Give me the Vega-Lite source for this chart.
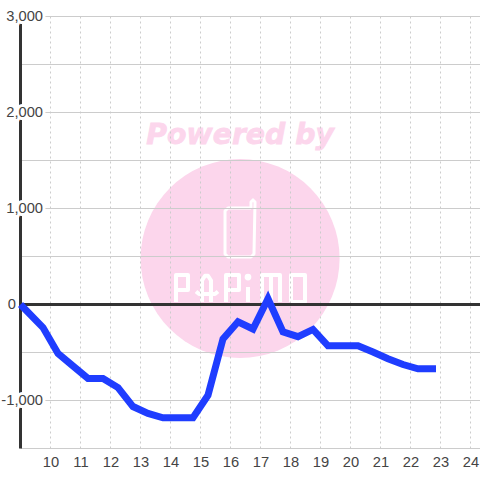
{
"$schema":"https://vega.github.io/schema/vega-lite/v6.json",
"width":459.5,"height":432,
"autosize":{"type":"none"},
"padding":{"left":20.5,"top":16.5,"right":0,"bottom":31.5},
"background":"#ffffff",
"config":{"view":{"stroke":null},"font":"Liberation Sans"},
"datasets":{
"series":[{"h":9,"v":0},{"h":9.75,"v":-240},{"h":10.25,"v":-510},{"h":10.75,"v":-640},{"h":11.25,"v":-770},{"h":11.75,"v":-770},{"h":12.25,"v":-865},{"h":12.75,"v":-1063},{"h":13.25,"v":-1135},{"h":13.75,"v":-1180},{"h":14.25,"v":-1180},{"h":14.75,"v":-1180},{"h":15.25,"v":-945},{"h":15.75,"v":-358},{"h":16.25,"v":-180},{"h":16.75,"v":-255},{"h":17.25,"v":60},{"h":17.75,"v":-285},{"h":18.25,"v":-335},{"h":18.75,"v":-260},{"h":19.25,"v":-430},{"h":19.75,"v":-430},{"h":20.25,"v":-430},{"h":20.75,"v":-495},{"h":21.25,"v":-565},{"h":21.75,"v":-625},{"h":22.25,"v":-670},{"h":22.85,"v":-670}],
"hgrid":[{"v":-1500},{"v":-1000},{"v":-500},{"v":0},{"v":500},{"v":1000},{"v":1500},{"v":2000},{"v":2500},{"v":3000}],
"vgrid":[{"h":10},{"h":11},{"h":12},{"h":13},{"h":14},{"h":15},{"h":16},{"h":17},{"h":18},{"h":19},{"h":20},{"h":21},{"h":22},{"h":23},{"h":24}],
"ylabels":[{"v":-1000,"t":"-1,000"},{"v":1000,"t":"1,000"},{"v":2000,"t":"2,000"},{"v":3000,"t":"3,000"}],
"phone":[
{"s":"phone","o":1,"h":16.683,"v":1005},{"s":"phone","o":2,"h":15.917,"v":1005},{"s":"phone","o":3,"h":15.817,"v":974},{"s":"phone","o":4,"h":15.817,"v":526},{"s":"phone","o":5,"h":15.917,"v":495},{"s":"phone","o":6,"h":16.683,"v":495},{"s":"phone","o":7,"h":16.783,"v":526},{"s":"phone","o":8,"h":16.817,"v":1068},{"s":"phone","o":9,"h":16.75,"v":1089},{"s":"phone","o":10,"h":16.683,"v":1068},{"s":"phone","o":11,"h":16.683,"v":1005}],
"letters":[
{"s":"p1","o":1,"h":14.183,"v":26},{"s":"p1","o":2,"h":14.183,"v":307},{"s":"p1","o":3,"h":14.583,"v":307},{"s":"p1","o":4,"h":14.583,"v":151},{"s":"p1","o":5,"h":14.183,"v":151},
{"s":"a1","o":1,"h":15.05,"v":26},{"s":"a1","o":2,"h":15.05,"v":250},{"s":"a1","o":3,"h":15.15,"v":300},{"s":"a1","o":4,"h":15.25,"v":300},{"s":"a1","o":5,"h":15.35,"v":250},{"s":"a1","o":6,"h":15.35,"v":26},
{"s":"a2","o":1,"h":14.85,"v":135},{"s":"a2","o":2,"h":14.95,"v":110},{"s":"a2","o":3,"h":15.483,"v":110},{"s":"a2","o":4,"h":15.583,"v":135},
{"s":"p2","o":1,"h":15.85,"v":26},{"s":"p2","o":2,"h":15.85,"v":307},{"s":"p2","o":3,"h":16.283,"v":307},{"s":"p2","o":4,"h":16.283,"v":151},{"s":"p2","o":5,"h":15.85,"v":151},
{"s":"i","o":1,"h":16.583,"v":182},{"s":"i","o":2,"h":16.583,"v":26},
{"s":"m1","o":1,"h":17.05,"v":26},{"s":"m1","o":2,"h":17.05,"v":307},{"s":"m1","o":3,"h":17.65,"v":307},{"s":"m1","o":4,"h":17.65,"v":26},
{"s":"m2","o":1,"h":17.35,"v":307},{"s":"m2","o":2,"h":17.35,"v":26},
{"s":"o","o":1,"h":18.017,"v":26},{"s":"o","o":2,"h":18.017,"v":307},{"s":"o","o":3,"h":18.483,"v":307},{"s":"o","o":4,"h":18.483,"v":26},{"s":"o","o":5,"h":18.017,"v":26}
],
"dot":[{"h":16.583,"v":286}],
"disc":[{"h":16.32,"v":479,"t":"Powered by"}]
},
"encoding":{
"x":{"type":"quantitative","scale":{"domain":[9,24.3167],"nice":false,"zero":false},"title":null,"axis":{"values":[10,11,12,13,14,15,16,17,18,19,20,21,22,23,24],"domain":false,"ticks":false,"grid":false,"labelFontSize":14.7,"labelColor":"#444444","labelPadding":6,"labelFont":"Liberation Sans","format":"d","labelOverlap":false,"labelFlush":false}},
"y":{"type":"quantitative","scale":{"domain":[-1500,3000],"nice":false,"zero":false},"axis":null}
},
"layer":[
{"data":{"name":"disc"},"mark":{"type":"point","shape":"circle","filled":true,"size":39600,"color":"#fcd6ec","opacity":1},"encoding":{"x":{"field":"h"},"y":{"field":"v"}}},
{"data":{"name":"phone"},"mark":{"type":"line","color":"#ffffff","strokeWidth":3,"strokeJoin":"round"},"encoding":{"x":{"field":"h"},"y":{"field":"v"},"detail":{"field":"s"},"order":{"field":"o","type":"quantitative"}}},
{"data":{"name":"letters"},"mark":{"type":"line","color":"#ffffff","strokeWidth":4,"strokeJoin":"round"},"encoding":{"x":{"field":"h"},"y":{"field":"v"},"detail":{"field":"s"},"order":{"field":"o","type":"quantitative"}}},
{"data":{"name":"dot"},"mark":{"type":"point","shape":"circle","filled":true,"size":45,"color":"#ffffff","opacity":1},"encoding":{"x":{"field":"h"},"y":{"field":"v"}}},
{"data":{"name":"disc"},"mark":{"type":"text","font":"DejaVu Sans","fontWeight":"bold","fontStyle":"italic","fontSize":28.3,"color":"#fcd6ec","stroke":"#fcd6ec","strokeWidth":0.8,"dy":-123,"align":"center","baseline":"middle"},"encoding":{"text":{"field":"t"},"x":{"field":"h"},"y":{"field":"v"}}},
{"data":{"name":"hgrid"},"mark":{"type":"rule","color":"#cccccc","strokeWidth":1},"encoding":{"y":{"field":"v"},"x":{"value":0},"x2":{"value":459.5}}},
{"data":{"name":"vgrid"},"mark":{"type":"rule","color":"#cccccc","strokeWidth":1,"strokeDash":[2,3]},"encoding":{"x":{"field":"h"}}},
{"data":{"values":[{"v":0}]},"mark":{"type":"rule","color":"#333333","strokeWidth":3},"encoding":{"y":{"field":"v"},"x":{"value":0},"x2":{"value":459.5}}},
{"data":{"values":[{"h":9}]},"mark":{"type":"rule","color":"#333333","strokeWidth":3},"encoding":{"x":{"field":"h"}}},
{"data":{"name":"ylabels"},"mark":{"type":"text","align":"right","baseline":"middle","fontSize":14.7,"color":"#ffffff","stroke":"#ffffff","strokeWidth":6},"encoding":{"x":{"datum":9.75},"y":{"field":"v"},"text":{"field":"t"}}},
{"data":{"name":"ylabels"},"mark":{"type":"text","align":"right","baseline":"middle","fontSize":14.7,"color":"#444444"},"encoding":{"x":{"datum":9.75},"y":{"field":"v"},"text":{"field":"t"}}},
{"data":{"values":[{"v":0,"t":"0"}]},"mark":{"type":"text","align":"right","baseline":"middle","fontSize":14.7,"color":"#444444"},"encoding":{"x":{"datum":8.85},"y":{"field":"v"},"text":{"field":"t"}}},
{"data":{"name":"series"},"mark":{"type":"line","color":"#1f3dff","strokeWidth":7,"strokeJoin":"miter","strokeCap":"butt"},"encoding":{"x":{"field":"h"},"y":{"field":"v"}}}
]
}
